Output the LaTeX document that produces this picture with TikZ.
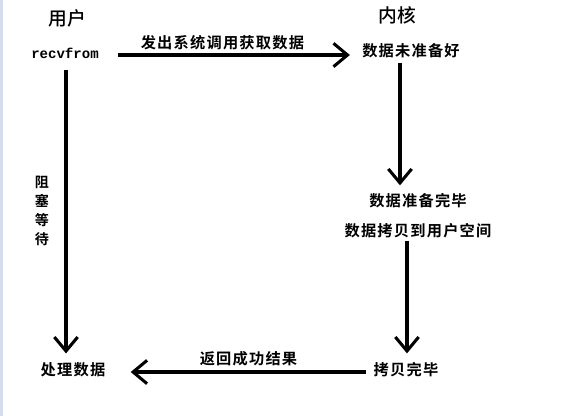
\documentclass[tikz,border=0pt]{standalone}
\usepackage{fontspec}
\setmonofont{Liberation Mono}
\newfontfamily\cjk{Noto Sans CJK SC Medium}
\newfontfamily\cjkb{Noto Sans CJK SC Bold}[LetterSpace=8]
\usetikzlibrary{arrows.meta,calc}
\definecolor{stripblue}{RGB}{212,221,236}
\tikzset{
    raw label/.style={inner sep=1pt, align=center},
    side title/.style={raw label, font=\cjk\fontsize{16}{18}\selectfont},
    state/.style={raw label, font=\cjkb\fontsize{13}{15}\selectfont},
    call name/.style={raw label, font=\ttfamily\bfseries\fontsize{12}{14}\selectfont},
    step arrow/.style={line width=2.6pt, -{Straight Barb[length=0.42cm, width=0.7cm]}}
}
\begin{document}
\begin{tikzpicture}[x=0.03cm, y=-0.03cm]
    \useasboundingbox (0,0) rectangle (563,416);
    \fill[stripblue] (0,0) rectangle (3,416);

    \node[side title] (user) at (67,18) {用户};
    \node[side title] (kernel) at (397,15) {内核};

    \node[call name] (recv) at (65,53) {recvfrom};
    \node[state] (nready) at (411,51) {数据未准备好};
    \node[state] (ndone) at (418,201) {数据准备完毕};
    \node[state] (ncopy) at (418,231) {数据拷贝到用户空间};
    \node[state] (cdone) at (406,370) {拷贝完毕};
    \node[state] (proc) at (73,370) {处理数据};
    \node[state, font=\cjkb\fontsize{12}{16}\selectfont] (block) at (42,211) {阻\\塞\\等\\待};

    \draw[step arrow] ($(recv.east)+(18,2)$) -- ($(nready.west)+(-11,4)$)
        node[state, pos=0.45, above=2pt] {发出系统调用获取数据};
    \draw[step arrow] ($(recv.south)+(1,10)$) -- ($(recv.south |- proc.north)+(1,-8)$);
    \draw[step arrow] ($(nready.south)+(-11,3)$) -- ($(nready.south |- ndone.north)+(-11,-7)$);
    \draw[step arrow] ($(ncopy.south)+(-11,1)$) -- ($(ncopy.south |- cdone.north)+(-11,-8)$);
    \draw[step arrow] ($(cdone.west)+(-6,2)$) -- ($(proc.east)+(24,2)$)
        node[state, midway, above=3pt] {返回成功结果};
\end{tikzpicture}
\end{document}
